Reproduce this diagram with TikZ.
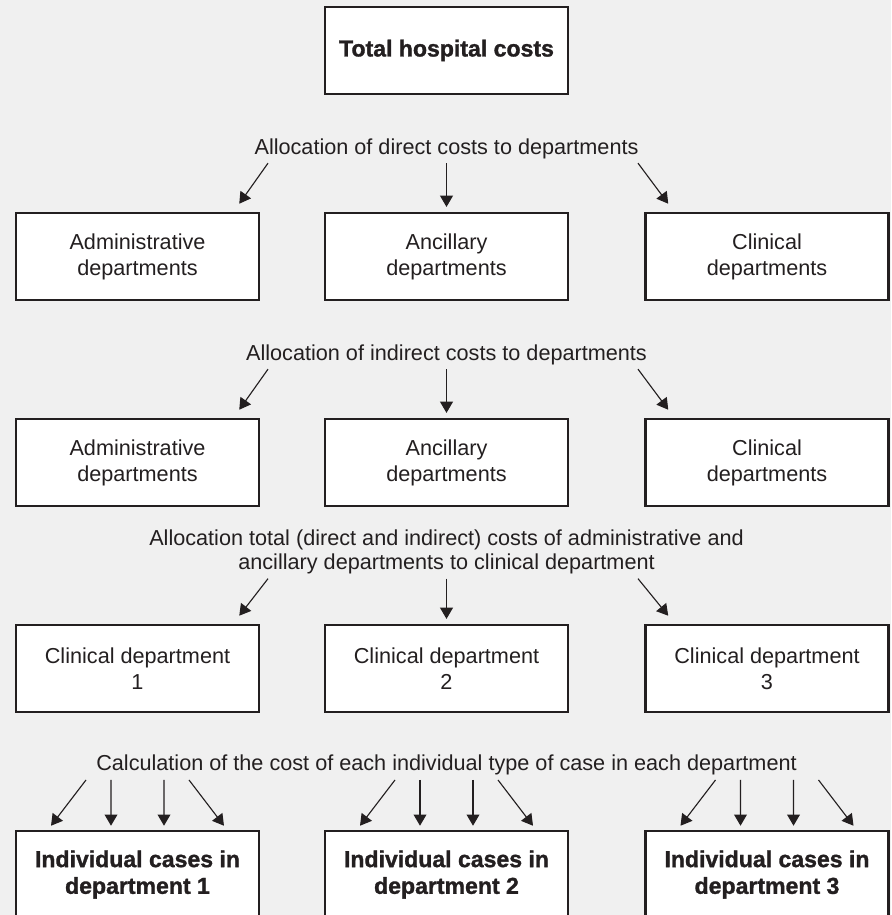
\documentclass[tikz,border=0pt]{standalone}
\usepackage{fontspec}
\setmainfont{Liberation Sans}[BoldFeatures={FakeBold=1.3}]
\usetikzlibrary{arrows.meta, positioning}
\definecolor{pagebg}{RGB}{240, 240, 240}
\definecolor{textdark}{RGB}{35, 31, 32}

\begin{document}
\begin{tikzpicture}[
    dept/.style={rectangle, draw=textdark, fill=white, line width=1.8pt, minimum width=6.075cm, minimum height=2.175cm, align=center, text=textdark, font=\fontsize{15.4}{18.5}\selectfont},
    deptbold/.style={dept, font=\fontsize{16.4}{19}\selectfont\bfseries},
    allocation/.style={inner sep=0pt, align=center, text=textdark, font=\fontsize{15.4}{17.5}\selectfont},
    arrow/.style={-{Triangle[length=0.28cm, width=0.32cm]}, line width=0.8pt, color=textdark}
]

% Page
\useasboundingbox (0,0) rectangle (22.275,-22.875);
\clip (0,0) rectangle (22.275,-22.875);
\fill[pagebg] (0,0) rectangle (22.275,-22.875);

% Total costs
\node[deptbold] (total) at (11.1625,-1.2625) {Total hospital costs};

% Direct costs
\node[allocation] (alloc1) at (11.1625,-3.72) {Allocation of direct costs to departments};
\node[dept] (adm1) at (3.4375,-6.4125) {Administrative\\departments};
\node[dept] (anc1) at (11.1625,-6.4125) {Ancillary\\departments};
\node[dept] (cli1) at (19.175,-6.4125) {Clinical\\departments};

% Indirect costs
\node[allocation] (alloc2) at (11.1625,-8.87) {Allocation of indirect costs to departments};
\node[dept] (adm2) at (3.4375,-11.5625) {Administrative\\departments};
\node[dept] (anc2) at (11.1625,-11.5625) {Ancillary\\departments};
\node[dept] (cli2) at (19.175,-11.5625) {Clinical\\departments};

% Clinical departments
\node[allocation] (alloc3) at (11.1625,-13.8) {Allocation total (direct and indirect) costs of administrative and\\ancillary departments to clinical department};
\node[dept] (cd1) at (3.4375,-16.7125) {Clinical department\\1};
\node[dept] (cd2) at (11.1625,-16.7125) {Clinical department\\2};
\node[dept] (cd3) at (19.175,-16.7125) {Clinical department\\3};

% Individual cases
\node[allocation] (alloc4) at (11.1625,-19.12) {Calculation of the cost of each individual type of case in each department};
\node[deptbold] (case1) at (3.4375,-21.8625) {Individual cases in\\department 1};
\node[deptbold] (case2) at (11.1625,-21.8625) {Individual cases in\\department 2};
\node[deptbold] (case3) at (19.175,-21.8625) {Individual cases in\\department 3};

% Arrows
\draw[arrow] ([xshift=-4.4625cm, yshift=-0.1cm]alloc1.south) -- ([xshift=-0.525cm, yshift=0.2cm]adm1.north east);
\draw[arrow] ([yshift=-0.1cm]alloc1.south) -- ([yshift=0.12cm]anc1.north);
\draw[arrow] ([xshift=4.7875cm, yshift=-0.1cm]alloc1.south) -- ([xshift=0.6cm, yshift=0.2cm]cli1.north west);

\draw[arrow] ([xshift=-4.4625cm, yshift=-0.1cm]alloc2.south) -- ([xshift=-0.525cm, yshift=0.2cm]adm2.north east);
\draw[arrow] ([yshift=-0.1cm]alloc2.south) -- ([yshift=0.12cm]anc2.north);
\draw[arrow] ([xshift=4.7875cm, yshift=-0.1cm]alloc2.south) -- ([xshift=0.6cm, yshift=0.2cm]cli2.north west);

\draw[arrow] ([xshift=-4.4625cm, yshift=-0.1cm]alloc3.south) -- ([xshift=-0.525cm, yshift=0.2cm]cd1.north east);
\draw[arrow] ([yshift=-0.1cm]alloc3.south) -- ([yshift=0.12cm]cd2.north);
\draw[arrow] ([xshift=4.7875cm, yshift=-0.1cm]alloc3.south) -- ([xshift=0.6cm, yshift=0.2cm]cd3.north west);

\draw[arrow] ([xshift=-9.0125cm, yshift=-0.12cm]alloc4.south) -- ([xshift=-2.1625cm, yshift=0.1cm]case1.north);
\draw[arrow] ([xshift=-8.3875cm, yshift=-0.12cm]alloc4.south) -- ([xshift=-0.6625cm, yshift=0.1cm]case1.north);
\draw[arrow] ([xshift=-7.0625cm, yshift=-0.12cm]alloc4.south) -- ([xshift=0.6625cm, yshift=0.1cm]case1.north);
\draw[arrow] ([xshift=-6.4375cm, yshift=-0.12cm]alloc4.south) -- ([xshift=2.1625cm, yshift=0.1cm]case1.north);

\draw[arrow] ([xshift=-1.2875cm, yshift=-0.12cm]alloc4.south) -- ([xshift=-2.1625cm, yshift=0.1cm]case2.north);
\draw[arrow] ([xshift=-0.6625cm, yshift=-0.12cm]alloc4.south) -- ([xshift=-0.6625cm, yshift=0.1cm]case2.north);
\draw[arrow] ([xshift=0.6625cm, yshift=-0.12cm]alloc4.south) -- ([xshift=0.6625cm, yshift=0.1cm]case2.north);
\draw[arrow] ([xshift=1.2875cm, yshift=-0.12cm]alloc4.south) -- ([xshift=2.1625cm, yshift=0.1cm]case2.north);

\draw[arrow] ([xshift=6.725cm, yshift=-0.12cm]alloc4.south) -- ([xshift=-2.1625cm, yshift=0.1cm]case3.north);
\draw[arrow] ([xshift=7.35cm, yshift=-0.12cm]alloc4.south) -- ([xshift=-0.6625cm, yshift=0.1cm]case3.north);
\draw[arrow] ([xshift=8.675cm, yshift=-0.12cm]alloc4.south) -- ([xshift=0.6625cm, yshift=0.1cm]case3.north);
\draw[arrow] ([xshift=9.3cm, yshift=-0.12cm]alloc4.south) -- ([xshift=2.1625cm, yshift=0.1cm]case3.north);

\end{tikzpicture}
\end{document}
